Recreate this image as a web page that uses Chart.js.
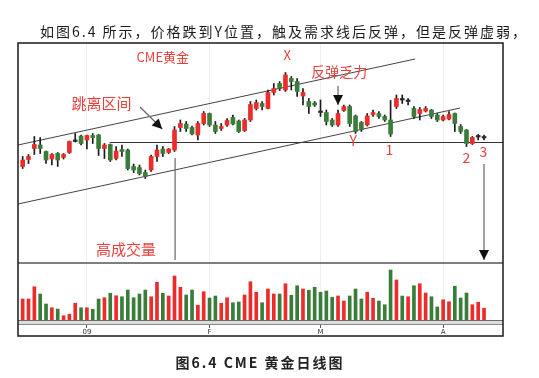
<!DOCTYPE html>
<html>
<head>
<meta charset="utf-8">
<script src="https://cdn.jsdelivr.net/npm/chart.js@4.4.1/dist/chart.umd.min.js"></script>
<style>
  html, body { margin: 0; padding: 0; background: #fff; }
  #wrap { position: relative; width: 539px; height: 378px; overflow: hidden; }
  #chart { position: absolute; left: 0; top: 0; }
  .txt { position: absolute; white-space: nowrap; color: #1a1a1a; font-family: "Noto Sans CJK SC", sans-serif; }
  #head { left: 40px; top: 21px; font-size: 14px; letter-spacing: 2px; }
  #cap { left: 0; width: 520px; top: 352px; text-align: center; font-size: 14px; font-weight: bold; letter-spacing: 2px; color: #222; }
</style>
</head>
<body>
<div id="wrap">
  <canvas id="chart" width="539" height="378"></canvas>
  <div class="txt" id="head">如图6.4 所示，价格跌到Y位置，触及需求线后反弹，但是反弹虚弱，</div>
  <div class="txt" id="cap">图6.4 CME 黄金日线图</div>
</div>
<script>
// 刻度
const tickPositions = [11, 32, 51, 72];
const tickLabels = ['09', 'F', 'M', 'A'];

// K线
const opens = [807,821,843,850,837,822,833,825,835,857,868,860,869,870,843,851,823,841,840,807,
  805,795,800,827,842,835,840,885,892,885,870,893,913,890,883,890,905,898,879,900,
  923,933,923,955,973,960,983,977,948,937,934,918,915,900,890,919,927,908,895,890,
  911,913,907,900,927,943,937,923,913,918,920,910,900,902,913,887,880,853,866,864];
const closes = [820,827,851,843,820,831,820,831,857,859,853,869,865,843,850,820,838,837,803,800,
  793,787,827,840,833,842,880,893,883,872,893,913,890,877,887,899,892,877,900,931,
  935,927,955,963,963,990,977,957,955,927,930,915,897,890,913,927,893,877,881,908,
  915,907,900,872,943,940,940,907,921,923,907,900,907,911,893,877,853,865,867,865];
const highs = [827,831,867,865,838,833,835,833,858,873,870,870,873,871,853,852,847,850,842,812,
  810,800,830,850,847,843,887,900,897,888,897,917,914,897,893,903,910,900,903,937,
  940,937,960,973,977,995,987,983,963,943,937,940,920,903,920,930,930,910,897,913,
  920,917,910,939,950,950,943,927,925,927,921,913,910,917,914,891,881,867,871,870];
const lows = [803,813,831,833,813,810,807,822,833,856,850,842,853,829,823,817,820,827,800,795,
  790,783,797,817,827,833,837,877,877,870,860,890,887,873,879,887,890,875,877,897,
  920,920,922,950,959,957,960,947,930,913,927,907,890,887,887,917,887,873,877,888,
  907,903,897,867,923,933,930,903,900,916,903,897,898,900,877,873,847,851,860,860];
// 成交量
const volumes = [84,84,133,104,64,49,44,17,23,67,49,49,43,84,89,107,97,93,120,89,
  104,120,93,151,107,96,176,131,100,120,59,113,88,96,67,89,69,72,100,153,
  111,69,124,104,104,145,99,137,124,119,131,111,116,91,96,76,96,124,84,111,
  87,76,61,200,160,96,93,137,145,108,93,52,81,73,135,88,108,61,71,47];

// 趋势线 / 水平线
const upperChannel = [{x: -0.8, y: 850}, {x: 67.2, y: 1022}];
const lowerChannel = [{x: -0.8, y: 732}, {x: 74.9, y: 924}];
const supportLine = [{x: 14.9, y: 855}, {x: 82.25, y: 855}];

const UP = '#ec2b2b', DOWN = '#3a7d3a', FLAT = '#2a2a2a';
const panelSplit = 614; // 价格区与成交量区的分界

const notes = [
  {text: 'CME黄金', at: [24.0, 1026], size: 13},
  {text: 'X', at: [45.3, 1029], size: 13},
  {text: '反弹乏力', at: [54.2, 997], size: 14},
  {text: '跳离区间', at: [13.5, 933], size: 15},
  {text: 'Y', at: [56.6, 858], size: 14},
  {text: '1', at: [62.8, 840], size: 14},
  {text: '2', at: [76.0, 824], size: 14},
  {text: '3', at: [78.9, 837], size: 14},
  {text: '高成交量', at: [17.7, 642], size: 15}
];
const arrows = [
  {from: [20.1, 926], to: [23.9, 882], head: true},
  {from: [54.0, 968], to: [54.0, 930], head: true},
  {from: [26.1, 824], to: [26.1, 620], head: false},
  {from: [79.0, 812], to: [79.0, 620], head: true}
];

const bodyColor = opens.map((o, i) => Math.abs(closes[i] - o) <= 3 ? FLAT : (closes[i] > o ? UP : DOWN));
const volColor = opens.map((o, i) => closes[i] >= o ? UP : DOWN);

function arrowHead(ctx, x0, y0, x1, y1, len, half) {
  const a = Math.atan2(y1 - y0, x1 - x0);
  const bx = x1 - len * Math.cos(a), by = y1 - len * Math.sin(a);
  ctx.beginPath();
  ctx.moveTo(x1, y1);
  ctx.lineTo(bx + half * Math.sin(a), by - half * Math.cos(a));
  ctx.lineTo(bx - half * Math.sin(a), by + half * Math.cos(a));
  ctx.closePath();
  ctx.fill();
}

const decor = {
  id: 'decor',
  afterDatasetsDraw(chart) {
    const {ctx, chartArea: a, scales} = chart;
    const x = scales.x, y = scales.y;
    const px = v => x.getPixelForValue(v), py = v => y.getPixelForValue(v);
    ctx.save();

    // 成交量区下方的灰条
    ctx.fillStyle = '#dcdcdc';
    ctx.fillRect(a.left, a.bottom, a.right - a.left, 4);
    ctx.strokeStyle = '#6a6a6a'; ctx.lineWidth = 1;
    ctx.beginPath(); ctx.moveTo(a.left, a.bottom + 0.5); ctx.lineTo(a.right, a.bottom + 0.5); ctx.stroke();
    ctx.strokeStyle = '#8a8a8a';
    ctx.beginPath(); ctx.moveTo(a.left, a.bottom + 4.5); ctx.lineTo(a.right, a.bottom + 4.5); ctx.stroke();

    // 分界线
    ctx.strokeStyle = '#555'; ctx.lineWidth = 1.5;
    ctx.beginPath(); ctx.moveTo(a.left, py(panelSplit)); ctx.lineTo(a.right, py(panelSplit)); ctx.stroke();

    // 外框
    ctx.strokeStyle = '#1a1a1a'; ctx.lineWidth = 1.5;
    ctx.strokeRect(a.left, a.top, a.right - a.left, x.bottom - a.top);

    // 箭头
    arrows.forEach(ar => {
      const x0 = px(ar.from[0]), y0 = py(ar.from[1]), x1 = px(ar.to[0]), y1 = py(ar.to[1]);
      ctx.strokeStyle = '#666'; ctx.lineWidth = 1.2;
      ctx.beginPath(); ctx.moveTo(x0, y0); ctx.lineTo(x1, y1); ctx.stroke();
      if (ar.head) {
        ctx.fillStyle = '#111';
        arrowHead(ctx, x0, y0, x1, y1, 10, 5);
      }
    });

    // 标注文字
    ctx.fillStyle = '#e8413c';
    ctx.textAlign = 'center';
    ctx.textBaseline = 'middle';
    notes.forEach(n => {
      ctx.font = n.size + 'px "Noto Sans CJK SC", sans-serif';
      ctx.fillText(n.text, px(n.at[0]), py(n.at[1]));
    });
    ctx.restore();
  }
};

const idx = opens.map((_, i) => i);
const lineStyle = {type: 'line', yAxisID: 'y', borderColor: '#444', borderWidth: 1, pointRadius: 0, fill: false, tension: 0, order: 5};

new Chart(document.getElementById('chart'), {
  type: 'bar',
  data: {
    datasets: [
      Object.assign({data: upperChannel}, lineStyle),
      Object.assign({data: lowerChannel}, lineStyle),
      Object.assign({data: supportLine}, lineStyle, {borderColor: '#333'}),
      {
        data: idx.map(i => ({x: i, y: [lows[i], highs[i]]})),
        yAxisID: 'y', backgroundColor: '#1a1a1a', barThickness: 1, grouped: false, order: 3
      },
      {
        data: idx.map(i => ({x: i, y: [opens[i], closes[i]]})),
        yAxisID: 'y', backgroundColor: bodyColor, barThickness: 4, minBarLength: 1.5, grouped: false, order: 2
      },
      {
        data: idx.map(i => ({x: i, y: volumes[i]})),
        yAxisID: 'vol', backgroundColor: volColor, barThickness: 3, grouped: false, order: 1
      }
    ]
  },
  options: {
    responsive: false,
    animation: false,
    layout: {padding: {left: 18, right: 36, top: 43, bottom: 42}},
    plugins: {legend: {display: false}, tooltip: {enabled: false}},
    scales: {
      x: {
        type: 'linear', min: -0.8, max: 82.25, offset: false,
        afterBuildTicks: s => { s.ticks = tickPositions.map(v => ({value: v})); },
        afterFit: s => { s.height = 16; },
        ticks: {
          callback: (v, i) => tickLabels[i],
          font: {size: 7, family: 'DejaVu Sans'}, color: '#333', padding: 0,
          autoSkip: false, maxRotation: 0
        },
        grid: {offset: false, color: '#eeeeee', tickColor: '#555', tickLength: 8, drawOnChartArea: true},
        border: {display: false}
      },
      y: {type: 'linear', display: false, min: 500, max: 1054},
      vol: {type: 'linear', display: false, min: 0, max: 1108}
    }
  },
  plugins: [decor]
});
</script>
</body>
</html>
